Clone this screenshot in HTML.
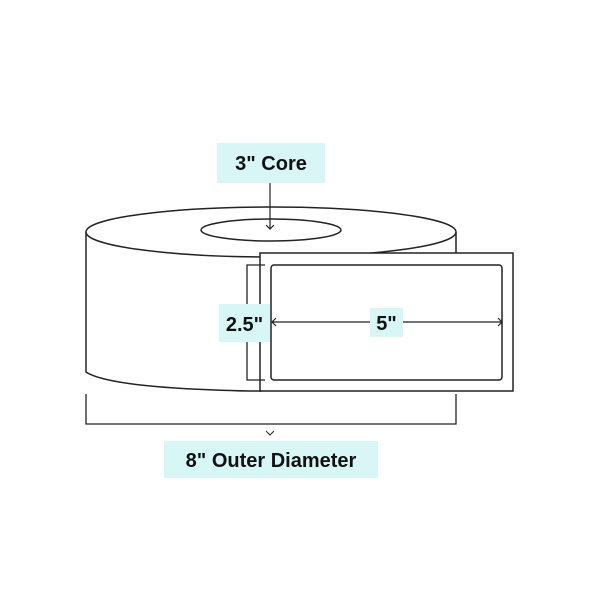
<!DOCTYPE html>
<html><head><style>body{margin:0;background:#fff}svg{display:block}text{font-family:"Liberation Sans",sans-serif;font-weight:bold;fill:#111}</style></head>
<body>
<svg width="600" height="600" viewBox="0 0 600 600" xmlns="http://www.w3.org/2000/svg">
<g fill="none" stroke="#222" stroke-width="1.5">
<path d="M86,232 A185,25 0 0 1 456,232 L456,253"/>
<path d="M86,232 A185,25 0 0 0 456,232"/>
<ellipse cx="271" cy="230" rx="70" ry="11"/>
<path d="M86,232 L86,372 Q110,388 250,391 L262,391"/>
<rect x="260" y="253" width="253" height="138" fill="#fff"/>
<rect x="271" y="265" width="231" height="115" rx="3"/>
<path d="M265,265 L247,265 L247,380 L265,380" stroke-width="1.3"/>
<path d="M86,394 L86,424 L456,424 L456,394" stroke-width="1.3"/>
<path d="M266,431 L270,435 L274,431" stroke-width="1"/>
<path d="M270,183 L270,229 M266,225 L270,229 L274,225" stroke-width="1.2"/>
<path d="M272,322 L502,322 M276,318 L272,322 L276,326 M498,318 L502,322 L498,326" stroke-width="1.2"/>
</g>
<rect x="217" y="143" width="108" height="40" fill="#d9f6f7"/>
<text x="271" y="170" font-size="20" text-anchor="middle">3" Core</text>
<rect x="219" y="304" width="51" height="38" fill="#d9f6f7"/>
<text x="244.5" y="331" font-size="20" text-anchor="middle">2.5"</text>
<rect x="370" y="308" width="33" height="29" fill="#d9f6f7"/>
<text x="386.5" y="330" font-size="20" text-anchor="middle">5"</text>
<rect x="164" y="441" width="214" height="37" fill="#d9f6f7"/>
<text x="271" y="467" font-size="20" text-anchor="middle">8" Outer Diameter</text>
</svg>
</body></html>
